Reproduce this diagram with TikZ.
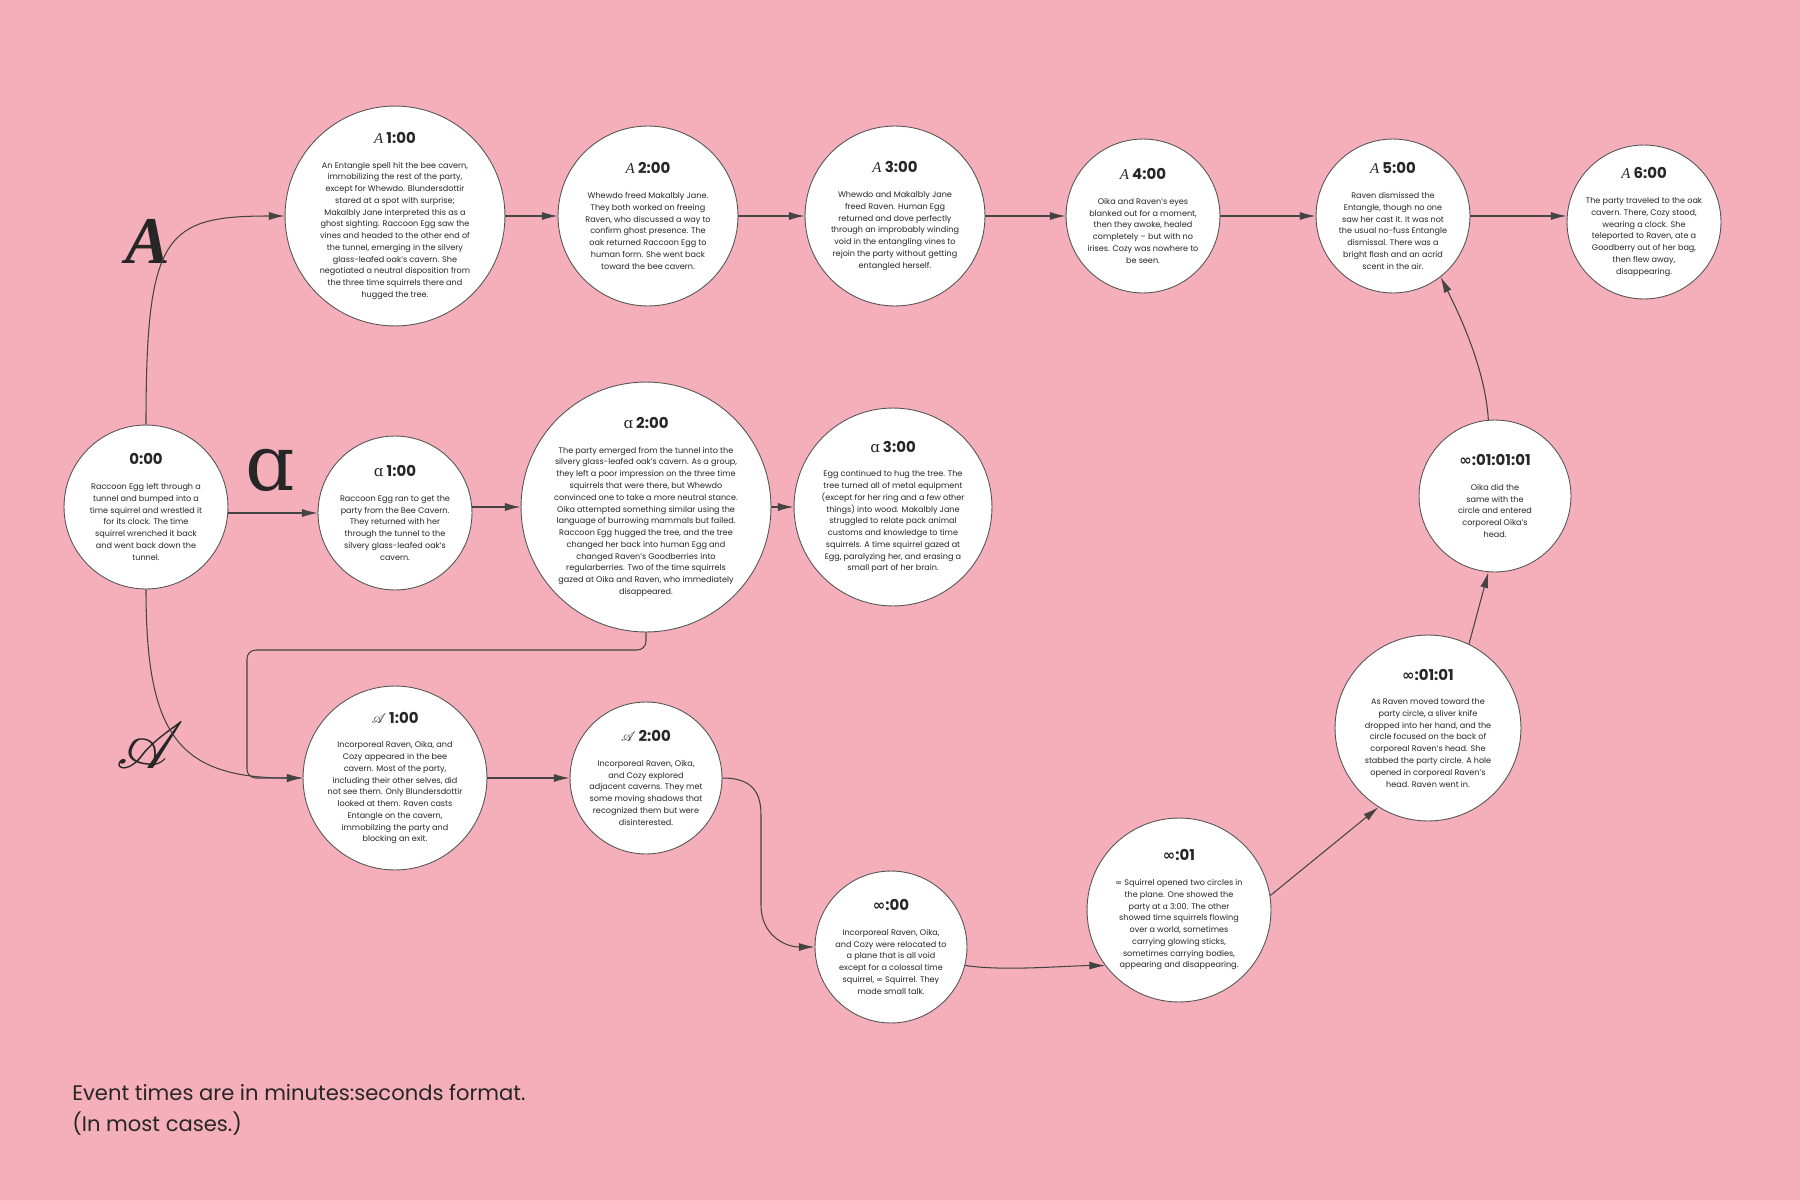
\documentclass[tikz,border=0pt]{standalone}
\usepackage{fontspec}
\usepackage{mathrsfs}
\usetikzlibrary{arrows.meta}
\setmainfont{Poppins}
\newfontfamily\serifletter{Liberation Serif}
\newfontfamily\alphaletter{DejaVu Serif}
\newfontfamily\symletter{DejaVu Sans}
\definecolor{bgpink}{HTML}{F5AFBA}
\definecolor{ink}{HTML}{262626}
\definecolor{rim}{HTML}{555555}
\definecolor{wire}{HTML}{444444}
\newcommand{\lA}{{\serifletter\itshape\mdseries A}}
\newcommand{\lB}{{\alphaletter\mdseries ɑ}}
\newcommand{\lC}{{\mdseries$\mathscr{A}$}}
\newcommand{\lInf}{{\symletter ∞}}
\newcommand{\stamp}[1]{{\fontsize{8.5}{10}\selectfont\bfseries #1}}

\begin{document}
\begin{tikzpicture}[x=0.02cm, y=-0.02cm,
    event/.style={circle, draw=rim, fill=white, line width=0.5pt, inner sep=0pt, minimum size=#1*0.04cm},
    note/.style={align=center, text=ink, inner sep=0pt, font=\fontsize{4.6}{6.7}\selectfont},
    link/.style={draw=wire, line width=0.6pt, -{Latex[length=9pt,width=4.6pt]}},
    tag/.style={text=ink, inner sep=0pt}]
  \useasboundingbox (0,0) rectangle (1800,1200);
  \fill[bgpink] (0,0) rectangle (1800,1200);

  % timeline letters
  \node[tag, font=\fontsize{38}{40}\selectfont\serifletter\bfseries\itshape] (tagA) at (148,241) {A};
  \node[tag, font=\fontsize{44}{46}\selectfont\alphaletter] (tagB) at (270,470) {ɑ};
  \node[tag, font=\fontsize{24}{26}\selectfont] (tagC) at (150,746) {\scalebox{1.5}{$\mathscr{A}$}};

  % circles
  \node[event=82] (z0) at (146,507) {};
  \node[event=110] (a1) at (395,216) {};
  \node[event=90] (a2) at (648,216) {};
  \node[event=90] (a3) at (895,216) {};
  \node[event=77] (a4) at (1143,216) {};
  \node[event=77] (a5) at (1393,216) {};
  \node[event=77] (a6) at (1644,222) {};
  \node[event=77] (b1) at (395,513) {};
  \node[event=125] (b2) at (646,507) {};
  \node[event=99] (b3) at (893,507) {};
  \node[event=92] (c1) at (395,778) {};
  \node[event=76] (c2) at (646,778) {};
  \node[event=76] (i0) at (891,947) {};
  \node[event=92] (i1) at (1179,910) {};
  \node[event=93] (i2) at (1428,728) {};
  \node[event=76] (i3) at (1495,496) {};

  % texts
  \node[note] at (z0) {\stamp{0:00}\\[7.3pt]
    Raccoon Egg left through a\\tunnel and bumped into a\\time squirrel and wrestled it\\for its clock. The time\\squirrel wrenched it back\\and went back down the\\tunnel.};
  \node[note] at (a1) {\stamp{\lA\ 1:00}\\[7.3pt]
    An Entangle spell hit the bee cavern,\\immobilizing the rest of the party,\\except for Whewdo. Blundersdottir\\stared at a spot with surprise;\\Makalbly Jane interpreted this as a\\ghost sighting. Raccoon Egg saw the\\vines and headed to the other end of\\the tunnel, emerging in the silvery\\glass-leafed oak's cavern. She\\negotiated a neutral disposition from\\the three time squirrels there and\\hugged the tree.};
  \node[note] at (a2) {\stamp{\lA\ 2:00}\\[7.3pt]
    Whewdo freed Makalbly Jane.\\They both worked on freeing\\Raven, who discussed a way to\\confirm ghost presence. The\\oak returned Raccoon Egg to\\human form. She went back\\toward the bee cavern.};
  \node[note] at (a3) {\stamp{\lA\ 3:00}\\[7.3pt]
    Whewdo and Makalbly Jane\\freed Raven. Human Egg\\returned and dove perfectly\\through an improbably winding\\void in the entangling vines to\\rejoin the party without getting\\entangled herself.};
  \node[note] at (a4) {\stamp{\lA\ 4:00}\\[7.3pt]
    Oika and Raven's eyes\\blanked out for a moment,\\then they awoke, healed\\completely – but with no\\irises. Cozy was nowhere to\\be seen.};
  \node[note] at (a5) {\stamp{\lA\ 5:00}\\[7.3pt]
    Raven dismissed the\\Entangle, though no one\\saw her cast it. It was not\\the usual no-fuss Entangle\\dismissal. There was a\\bright flash and an acrid\\scent in the air.};
  \node[note] at (a6) {\stamp{\lA\ 6:00}\\[7.3pt]
    The party traveled to the oak\\cavern. There, Cozy stood,\\wearing a clock. She\\teleported to Raven, ate a\\Goodberry out of her bag,\\then flew away,\\disappearing.};
  \node[note] at (b1) {\stamp{\lB\ 1:00}\\[7.3pt]
    Raccoon Egg ran to get the\\party from the Bee Cavern.\\They returned with her\\through the tunnel to the\\silvery glass-leafed oak's\\cavern.};
  \node[note] at (b2) {\stamp{\lB\ 2:00}\\[7.3pt]
    The party emerged from the tunnel into the\\silvery glass-leafed oak's cavern. As a group,\\they left a poor impression on the three time\\squirrels that were there, but Whewdo\\convinced one to take a more neutral stance.\\Oika attempted something similar using the\\language of burrowing mammals but failed.\\Raccoon Egg hugged the tree, and the tree\\changed her back into human Egg and\\changed Raven's Goodberries into\\regularberries. Two of the time squirrels\\gazed at Oika and Raven, who immediately\\disappeared.};
  \node[note] at (b3) {\stamp{\lB\ 3:00}\\[7.3pt]
    Egg continued to hug the tree. The\\tree turned all of metal equipment\\(except for her ring and a few other\\things) into wood. Makalbly Jane\\struggled to relate pack animal\\customs and knowledge to time\\squirrels. A time squirrel gazed at\\Egg, paralyzing her, and erasing a\\small part of her brain.};
  \node[note] at (c1) {\stamp{\lC\ 1:00}\\[7.3pt]
    Incorporeal Raven, Oika, and\\Cozy appeared in the bee\\cavern. Most of the party,\\including their other selves, did\\not see them. Only Blundersdottir\\looked at them. Raven casts\\Entangle on the cavern,\\immobilzing the party and\\blocking an exit.};
  \node[note] at (c2) {\stamp{\lC\ 2:00}\\[7.3pt]
    Incorporeal Raven, Oika,\\and Cozy explored\\adjacent caverns. They met\\some moving shadows that\\recognized them but were\\disinterested.};
  \node[note] at (i0) {\stamp{\lInf:00}\\[7.3pt]
    Incorporeal Raven, Oika,\\and Cozy were relocated to\\a plane that is all void\\except for a colossal time\\squirrel, \lInf\ Squirrel. They\\made small talk.};
  \node[note] at (i1) {\stamp{\lInf:01}\\[7.3pt]
    \lInf\ Squirrel opened two circles in\\the plane. One showed the\\party at \lB\ 3:00. The other\\showed time squirrels flowing\\over a world, sometimes\\carrying glowing sticks,\\sometimes carrying bodies,\\appearing and disappearing.};
  \node[note] at (i2) {\stamp{\lInf:01:01}\\[7.3pt]
    As Raven moved toward the\\party circle, a sliver knife\\dropped into her hand, and the\\circle focused on the back of\\corporeal Raven's head. She\\stabbed the party circle. A hole\\opened in corporeal Raven's\\head. Raven went in.};
  \node[note] at (i3) {\stamp{\lInf:01:01:01}\\[7.3pt]
    Oika did the\\same with the\\circle and entered\\corporeal Oika's\\head.};

  \node[tag, align=left, anchor=west, font=\fontsize{12}{18}\selectfont] (footnote) at (72,1110)
    {Event times are in minutes:seconds format.\\(In most cases.)};

  % connectors
  \draw[link] (z0.north) .. controls +(0,-190) and +(-120,0) .. (a1.west);
  \draw[link] (b1.west -| z0.east) -- (b1.west);
  \draw[link] (z0.south) .. controls +(0,145) and +(-125,0) .. (c1.west);
  \draw[link] (a1.east) -- (a2.west);
  \draw[link] (a2.east) -- (a3.west);
  \draw[link] (a3.east) -- (a4.west);
  \draw[link] (a4.east) -- (a5.west);
  \draw[link] (a5.east) -- (a5.east -| a6.west);
  \draw[link] (b1.east |- b2.west) -- (b2.west);
  \draw[link] (b2.east) -- (b3.west);
  \coordinate (bend) at (247,650);
  \draw[link, rounded corners=5pt] (b2.south) |- (bend) |- (c1.west);
  \draw[link] (c1.east) -- (c2.west);
  \draw[link] (c2.east) .. controls (750,778) and (761,790) .. (761,815)
    -- (761,905) .. controls (761,935) and (785,947) .. (i0.west);
  \draw[link] (i0.-14) .. controls +(40,6) and +(-40,0) .. (i1.217);
  \draw[link] (i1.9) -- (i2.238);
  \draw[link] (i2.64) -- (i3.265);
  \draw[link] (i3.95) .. controls +(-3,-50) and +(20,40) .. (a5.-52);
\end{tikzpicture}
\end{document}
